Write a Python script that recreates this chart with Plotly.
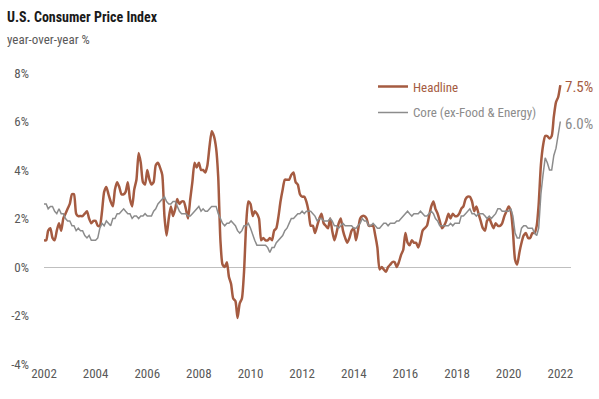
import plotly.graph_objects as go
import pandas as pd

headline = [
    1.1, 1.1, 1.5, 1.6, 1.2, 1.1, 1.5, 1.8, 1.5, 2.0, 2.2, 2.4,
    2.6, 3.0, 3.0, 2.2, 2.1, 2.1, 2.1, 2.2, 2.3, 2.0, 1.8, 1.9,
    1.9, 1.7, 1.7, 2.3, 3.1, 3.3, 3.0, 2.7, 2.5, 3.2, 3.5, 3.3,
    3.0, 3.0, 3.1, 3.5, 2.8, 2.5, 3.2, 3.6, 4.7, 4.3, 3.5, 3.4,
    4.0, 3.6, 3.4, 3.5, 4.2, 4.3, 4.1, 3.8, 2.1, 1.3, 2.0, 2.5,
    2.1, 2.4, 2.8, 2.6, 2.7, 2.7, 2.4, 2.0, 2.8, 3.5, 4.3, 4.1,
    4.3, 4.0, 4.0, 3.9, 4.2, 5.0, 5.6, 5.4, 4.9, 3.7, 1.1, 0.1,
    0.0, 0.2, -0.4, -0.7, -1.3, -1.4, -2.1, -1.5, -1.3, -0.2, 1.8, 2.7,
    2.6, 2.1, 2.3, 2.2, 2.0, 1.1, 1.2, 1.1, 1.1, 1.2, 1.1, 1.5,
    1.6, 2.1, 2.7, 3.2, 3.6, 3.6, 3.6, 3.8, 3.9, 3.5, 3.4, 3.0,
    2.9, 2.9, 2.7, 2.3, 1.7, 1.7, 1.4, 1.7, 2.0, 2.2, 1.8, 1.7,
    1.6, 2.0, 1.5, 1.1, 1.4, 1.8, 2.0, 1.5, 1.2, 1.0, 1.2, 1.5,
    1.6, 1.1, 1.5, 2.0, 2.1, 2.1, 2.0, 1.7, 1.7, 1.7, 1.3, 0.8,
    -0.1, 0.0, -0.1, -0.2, 0.0, 0.1, 0.2, 0.2, 0.0, 0.2, 0.5, 0.7,
    1.4, 1.0, 0.9, 1.1, 1.0, 1.0, 0.8, 1.1, 1.5, 1.6, 1.7, 2.1,
    2.5, 2.7, 2.4, 2.2, 1.9, 1.6, 1.7, 1.9, 2.2, 2.0, 2.2, 2.1,
    2.1, 2.2, 2.4, 2.5, 2.8, 2.9, 2.9, 2.7, 2.3, 2.5, 2.2, 1.9,
    1.6, 1.5, 1.9, 2.0, 1.8, 1.6, 1.8, 1.7, 1.7, 1.8, 2.1, 2.3,
    2.5, 2.3, 1.5, 0.3, 0.1, 0.6, 1.0, 1.3, 1.4, 1.2, 1.2, 1.4,
    1.4, 1.7, 2.6, 4.2, 5.0, 5.4, 5.4, 5.3, 5.4, 6.2, 6.8, 7.0,
    7.5,
]

core = [
    2.6, 2.6, 2.4, 2.5, 2.5, 2.3, 2.2, 2.4, 2.2, 2.2, 2.0, 1.9,
    1.9, 1.7, 1.7, 1.5, 1.6, 1.5, 1.5, 1.3, 1.2, 1.3, 1.1, 1.1,
    1.1, 1.2, 1.6, 1.8, 1.7, 1.9, 1.8, 1.7, 2.0, 2.0, 2.2, 2.2,
    2.3, 2.4, 2.3, 2.2, 2.2, 2.0, 2.1, 2.1, 2.0, 2.1, 2.1, 2.2,
    2.1, 2.1, 2.1, 2.3, 2.4, 2.6, 2.7, 2.8, 2.9, 2.7, 2.6, 2.6,
    2.7, 2.7, 2.5, 2.3, 2.2, 2.2, 2.2, 2.1, 2.1, 2.2, 2.3, 2.4,
    2.5, 2.3, 2.4, 2.3, 2.3, 2.4, 2.5, 2.5, 2.5, 2.2, 2.0, 1.8,
    1.7, 1.8, 1.8, 1.9, 1.8, 1.7, 1.5, 1.4, 1.5, 1.7, 1.7, 1.8,
    1.6, 1.3, 1.1, 0.9, 0.9, 0.9, 0.9, 0.9, 0.8, 0.6, 0.8, 0.8,
    1.0, 1.1, 1.2, 1.3, 1.5, 1.6, 1.8, 2.0, 2.0, 2.1, 2.2, 2.2,
    2.3, 2.2, 2.3, 2.3, 2.3, 2.2, 2.1, 1.9, 2.0, 2.0, 1.9, 1.9,
    1.9, 2.0, 1.9, 1.7, 1.7, 1.6, 1.7, 1.8, 1.7, 1.7, 1.7, 1.7,
    1.6, 1.6, 1.7, 1.8, 2.0, 1.9, 1.9, 1.7, 1.7, 1.8, 1.7, 1.6,
    1.6, 1.7, 1.8, 1.8, 1.7, 1.8, 1.8, 1.8, 1.9, 1.9, 2.0, 2.1,
    2.2, 2.3, 2.2, 2.1, 2.2, 2.2, 2.2, 2.3, 2.2, 2.1, 2.1, 2.2,
    2.3, 2.2, 2.0, 1.9, 1.7, 1.7, 1.7, 1.7, 1.7, 1.8, 1.7, 1.8,
    1.8, 1.8, 2.1, 2.1, 2.2, 2.3, 2.4, 2.2, 2.2, 2.1, 2.2, 2.2,
    2.2, 2.1, 2.0, 2.1, 2.0, 2.1, 2.2, 2.4, 2.4, 2.3, 2.3, 2.3,
    2.3, 2.4, 2.1, 1.4, 1.2, 1.2, 1.6, 1.7, 1.7, 1.6, 1.6, 1.6,
    1.4, 1.3, 1.6, 3.0, 3.8, 4.5, 4.3, 4.0, 4.0, 4.6, 4.9, 5.5,
    6.0,
]

dates = pd.date_range("2002-01-01", periods=len(headline), freq="MS")
tick_years = [str(y) for y in range(2002, 2024, 2)]
y_ticks = [-4, -2, 0, 2, 4, 6, 8]
y_labels = ["-4%", "-2%", "0%", "2%", "4%", "6%", "8%"]

BROWN = "#A55B41"
GRAY = "#8C8C8C"
TXT = "#595959"
FONT = "Liberation Sans Narrow, Roboto Condensed, Arial Narrow, sans-serif"

# plot area in pixels: left 44, right 571, top 73, bottom 364
PL, PR, PT, PB = 44, 571, 73, 364
def px(xp):
    return (xp - PL) / (PR - PL)
def py(yp):
    return (PB - yp) / (PB - PT)

fig = go.Figure()
fig.add_trace(go.Scatter(
    x=dates, y=headline, mode="lines",
    name=f"<span style='color:{BROWN}'>Headline</span>",
    line=dict(color=BROWN, width=2.5, shape="spline", smoothing=0.6), legendgroup="a"))
fig.add_trace(go.Scatter(
    x=dates, y=core, mode="lines",
    name=f"<span style='color:{GRAY}'>Core (ex-Food &amp; Energy)</span>",
    line=dict(color=GRAY, width=1.5), legendgroup="b"))

fig.add_annotation(x=dates[-1], y=headline[-1], text=f"{headline[-1]:.1f}%",
                   xanchor="left", yanchor="middle", xshift=3, yshift=-2, showarrow=False,
                   font=dict(color=BROWN, size=15, family=FONT))
fig.add_annotation(x=dates[-1], y=core[-1], text=f"{core[-1]:.1f}%",
                   xanchor="left", yanchor="middle", xshift=3, yshift=-2, showarrow=False,
                   font=dict(color=GRAY, size=15, family=FONT))

fig.add_annotation(xref="paper", yref="paper", x=px(5), y=py(7), xanchor="left", yanchor="top",
                   text="<b>U.S. Consumer Price Index</b>", showarrow=False,
                   font=dict(size=14, color="#1a1a1a", family=FONT))
fig.add_annotation(xref="paper", yref="paper", x=px(5), y=py(30), xanchor="left", yanchor="top",
                   text="year-over-year %", showarrow=False,
                   font=dict(size=13, color=TXT, family=FONT))

fig.update_layout(
    width=599, height=399,
    margin=dict(l=PL, r=599 - PR, t=PT, b=399 - PB, autoexpand=False),
    paper_bgcolor="white", plot_bgcolor="white",
    font=dict(family=FONT, color=TXT, size=13),
    showlegend=True,
    legend=dict(x=px(373), y=1.005, xanchor="left", yanchor="top",
                bgcolor="rgba(0,0,0,0)", font=dict(size=13, family=FONT),
                tracegroupgap=6, itemwidth=30),
    xaxis=dict(type="date", range=["2002-01-01", "2022-06-01"], automargin=False,
               tickvals=[f"{y}-01-01" for y in tick_years], ticktext=tick_years,
               showgrid=False, zeroline=False, showline=False, ticks="",
               tickfont=dict(size=13, color=TXT)),
    yaxis=dict(range=[-4, 8], tickvals=y_ticks, ticktext=y_labels, automargin=False,
               showgrid=False, zeroline=True, zerolinecolor="#BFBFBF", zerolinewidth=1,
               showline=False, ticks="", ticklabelstandoff=14,
               tickfont=dict(size=13, color=TXT)),
)

fig.write_html("out.html", config={"displayModeBar": False},
               post_script="document.body.style.margin='0';document.body.style.overflow='hidden';")
